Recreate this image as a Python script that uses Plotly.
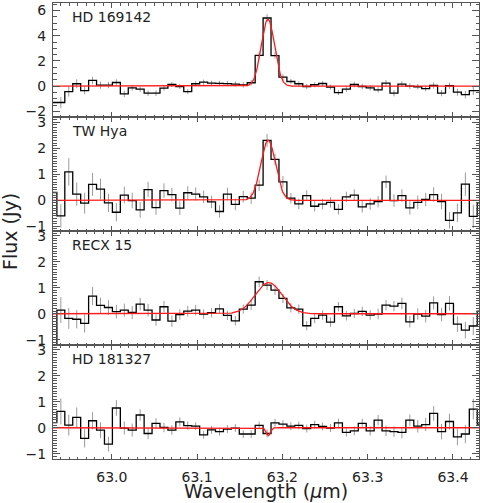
import numpy as np
import plotly.graph_objects as go
from plotly.subplots import make_subplots

# wavelength bin centres (micron); first entry is the partial bin at the left edge
wavelength = [62.9309,
    62.9402, 62.9495, 62.9588, 62.9681, 62.9774, 62.9867, 62.9960, 63.0053, 63.0146, 63.0239,
    63.0332, 63.0425, 63.0518, 63.0611, 63.0704, 63.0797, 63.0890, 63.0983, 63.1076, 63.1169,
    63.1262, 63.1355, 63.1448, 63.1541, 63.1634, 63.1727, 63.1820, 63.1913, 63.2006, 63.2099,
    63.2192, 63.2285, 63.2378, 63.2471, 63.2564, 63.2657, 63.2750, 63.2843, 63.2936, 63.3029,
    63.3122, 63.3215, 63.3308, 63.3401, 63.3494, 63.3587, 63.3680, 63.3773, 63.3866, 63.3959,
    63.4052, 63.4145, 63.4238, 63.4331]
bin_width = 0.0093

names = ["HD 169142", "TW Hya", "RECX 15", "HD 181327"]

flux_hd169142 = [-1.30,
    -1.30, -0.43, 0.19, -0.35, 0.45, 0.08, 0.08, 0.29, -0.61, -0.13,
    -0.24, -0.56, -0.56, -0.16, 0.13, -0.03, -0.43, 0.19, 0.32, 0.24,
    0.22, 0.20, 0.16, 0.10, 0.27, 2.45, 5.41, 2.43, 0.72, 0.37,
    0.19, -0.03, 0.11, 0.21, -0.08, -0.51, -0.24, 0.13, -0.03, -0.13,
    -0.29, 0.24, -0.56, 0.16, 0.00, -0.05, -0.19, 0.05, -0.56, 0.03,
    -0.48, -0.67, -0.35, -0.35]
err_hd169142 = [0.0,
    0.45, 0.40, 0.35, 0.30, 0.30, 0.28, 0.25, 0.25, 0.25, 0.22,
    0.22, 0.22, 0.22, 0.20, 0.20, 0.20, 0.20, 0.20, 0.20, 0.20,
    0.20, 0.20, 0.20, 0.22, 0.22, 0.25, 0.30, 0.25, 0.22, 0.20,
    0.20, 0.20, 0.20, 0.20, 0.20, 0.20, 0.22, 0.22, 0.22, 0.22,
    0.22, 0.25, 0.25, 0.22, 0.22, 0.22, 0.22, 0.25, 0.25, 0.25,
    0.28, 0.30, 0.35, 0.40]

flux_twhya = [0.30,
    -0.60, 1.09, 0.24, -0.11, 0.61, 0.43, -0.10, -0.46, 0.20, -0.01,
    -0.37, 0.41, -0.28, 0.37, 0.22, -0.30, 0.29, 0.24, 0.13, -0.06,
    -0.43, 0.24, -0.16, 0.14, 0.08, 0.58, 2.30, 1.57, 0.71, 0.08,
    -0.14, 0.18, -0.23, -0.15, -0.08, -0.35, 0.13, 0.20, -0.25, -0.14,
    -0.05, 0.71, -0.01, 0.18, -0.29, -0.08, 0.03, 0.22, -0.05, -0.77,
    -0.48, 0.62, -0.62, -0.10]
err_twhya = [0.0,
    0.45, 0.53, 0.45, 0.40, 0.44, 0.40, 0.35, 0.35, 0.32, 0.30,
    0.30, 0.30, 0.28, 0.28, 0.26, 0.26, 0.25, 0.25, 0.24, 0.24,
    0.24, 0.24, 0.22, 0.22, 0.22, 0.22, 0.25, 0.22, 0.22, 0.20,
    0.20, 0.20, 0.20, 0.20, 0.20, 0.20, 0.20, 0.22, 0.22, 0.22,
    0.22, 0.24, 0.24, 0.24, 0.26, 0.26, 0.26, 0.28, 0.30, 0.32,
    0.35, 0.45, 0.45, 0.45]

flux_recx15 = [-1.60,
    0.14, -0.18, -0.21, -0.37, 0.68, 0.32, 0.24, 0.08, 0.14, 0.05,
    0.37, 0.14, -0.24, 0.27, -0.28, -0.03, 0.10, 0.14, -0.01, 0.04,
    0.19, -0.06, -0.27, 0.18, 0.33, 1.23, 1.10, 0.91, 0.59, 0.23,
    0.18, -0.46, -0.18, -0.05, -0.32, 0.27, -0.08, 0.01, 0.09, -0.05,
    -0.01, 0.33, 0.29, 0.40, -0.31, -0.01, -0.09, 0.42, -0.03, 0.40,
    -0.40, -0.63, -0.47, 0.10]
err_recx15 = [0.0,
    0.50, 0.40, 0.35, 0.35, 0.35, 0.30, 0.28, 0.26, 0.25, 0.25,
    0.24, 0.24, 0.22, 0.22, 0.22, 0.20, 0.20, 0.20, 0.18, 0.18,
    0.18, 0.18, 0.18, 0.18, 0.18, 0.20, 0.20, 0.18, 0.18, 0.18,
    0.18, 0.18, 0.18, 0.18, 0.18, 0.18, 0.18, 0.18, 0.18, 0.18,
    0.20, 0.20, 0.20, 0.22, 0.22, 0.22, 0.24, 0.25, 0.26, 0.28,
    0.30, 0.32, 0.35, 0.40]

flux_hd181327 = [0.20,
    0.63, 0.10, 0.40, -0.41, 0.27, -0.09, -0.63, 0.76, -0.01, -0.09,
    0.49, -0.22, 0.17, 0.01, -0.09, 0.23, 0.08, 0.06, -0.27, -0.08,
    -0.15, -0.05, -0.01, -0.24, -0.24, 0.09, -0.22, 0.19, 0.14, 0.06,
    0.09, -0.03, 0.12, 0.05, -0.01, 0.19, -0.18, -0.12, 0.17, -0.12,
    0.29, -0.12, -0.15, -0.18, 0.29, 0.06, 0.12, 0.55, -0.15, 0.24,
    -0.35, -0.24, 0.72, 0.14]
err_hd181327 = [0.0,
    0.50, 0.40, 0.38, 0.35, 0.33, 0.30, 0.28, 0.30, 0.25, 0.25,
    0.22, 0.22, 0.20, 0.18, 0.18, 0.17, 0.16, 0.15, 0.15, 0.15,
    0.15, 0.15, 0.15, 0.15, 0.15, 0.15, 0.15, 0.15, 0.15, 0.15,
    0.15, 0.15, 0.15, 0.15, 0.15, 0.16, 0.16, 0.17, 0.18, 0.18,
    0.20, 0.20, 0.20, 0.22, 0.22, 0.24, 0.25, 0.28, 0.30, 0.30,
    0.32, 0.35, 0.40, 0.45]

# Gaussian line fits: amplitude (Jy), centre (micron), sigma (micron)
fit_amp = [5.3, 2.3, 1.2, -0.3]
fit_center = [63.1830, 63.1833, 63.1838, 63.1835]
fit_sigma = [0.0078, 0.0086, 0.0158, 0.0025]

fluxes = [flux_hd169142, flux_twhya, flux_recx15, flux_hd181327]
errors = [err_hd169142, err_twhya, err_recx15, err_hd181327]
y_ranges = [[-2.45, 6.6], [-1.18, 3.2], [-1.2, 3.18], [-1.2, 3.18]]
y_dticks = [2, 1, 1, 1]
y_minor = [0.5, 0.1, 0.1, 0.1]

x_range = [62.931, 63.4305]
FONT = "DejaVu Sans"
AX = "#555555"
TXT = "#222222"

fig = make_subplots(rows=4, cols=1, vertical_spacing=0)

wl = np.array(wavelength)
edges = list(wl - bin_width / 2) + [wl[-1] + bin_width / 2]
xfit = np.linspace(x_range[0], x_range[1], 800)

for i in range(4):
    r = i + 1
    f = fluxes[i]
    fig.add_trace(go.Scatter(
        x=wavelength, y=f, mode="markers",
        marker=dict(size=1, color="rgba(0,0,0,0)"),
        error_y=dict(type="data", array=errors[i], color="#9a9a9a", thickness=1, width=0),
        hoverinfo="skip", showlegend=False), row=r, col=1)
    fig.add_trace(go.Scatter(
        x=edges, y=list(f) + [f[-1]], mode="lines", line_shape="hv",
        line=dict(color="black", width=1.3), showlegend=False), row=r, col=1)
    yfit = fit_amp[i] * np.exp(-0.5 * ((xfit - fit_center[i]) / fit_sigma[i]) ** 2)
    fig.add_trace(go.Scatter(
        x=xfit, y=yfit, mode="lines",
        line=dict(color="#ff1a1a", width=1.3), showlegend=False), row=r, col=1)

    fig.update_xaxes(
        range=x_range, showline=True, mirror="ticks", linecolor=AX, linewidth=1,
        ticks="inside", ticklen=5, tickcolor=AX, tickwidth=1,
        tick0=63.0, dtick=0.1, tickformat=".1f",
        showgrid=False, zeroline=False, showticklabels=(i == 3),
        tickfont=dict(family=FONT, size=14, color=TXT), ticklabelstandoff=5,
        minor=dict(ticks="inside", ticklen=2.5, tickcolor=AX, dtick=0.01, tick0=63.0, showgrid=False),
        row=r, col=1)
    fig.update_yaxes(
        range=y_ranges[i], showline=True, mirror="ticks", linecolor=AX, linewidth=1,
        ticks="inside", ticklen=7, tickcolor=AX, tickwidth=1,
        tick0=0, dtick=y_dticks[i], showgrid=False, zeroline=False,
        tickfont=dict(family=FONT, size=14, color=TXT), ticklabelstandoff=3,
        minor=dict(ticks="inside", ticklen=3.5, tickcolor=AX, dtick=y_minor[i], tick0=0, showgrid=False),
        row=r, col=1)

    fig.add_annotation(
        text=names[i], xref="x domain" if i == 0 else f"x{r} domain",
        yref="y domain" if i == 0 else f"y{r} domain",
        x=0.04, y=0.875, xanchor="left", yanchor="middle", showarrow=False,
        font=dict(family=FONT, size=14, color=TXT))

fig.add_annotation(text="Wavelength (<i>μ</i>m)", xref="paper", yref="paper",
                   x=0.5, y=-0.07, xanchor="center", yanchor="middle", showarrow=False,
                   font=dict(family=FONT, size=19, color=TXT))
fig.add_annotation(text="Flux (Jy)", xref="paper", yref="paper", textangle=-90,
                   x=-0.101, y=0.5, xanchor="center", yanchor="middle", showarrow=False,
                   font=dict(family=FONT, size=19, color=TXT))

fig.update_layout(
    width=480, height=503,
    margin=dict(l=53, r=1, t=0, b=44),
    paper_bgcolor="white", plot_bgcolor="white",
    showlegend=False,
)

fig.write_html("out.html", config={"displayModeBar": False},
               post_script="document.body.style.margin='0';document.body.style.padding='0';")
